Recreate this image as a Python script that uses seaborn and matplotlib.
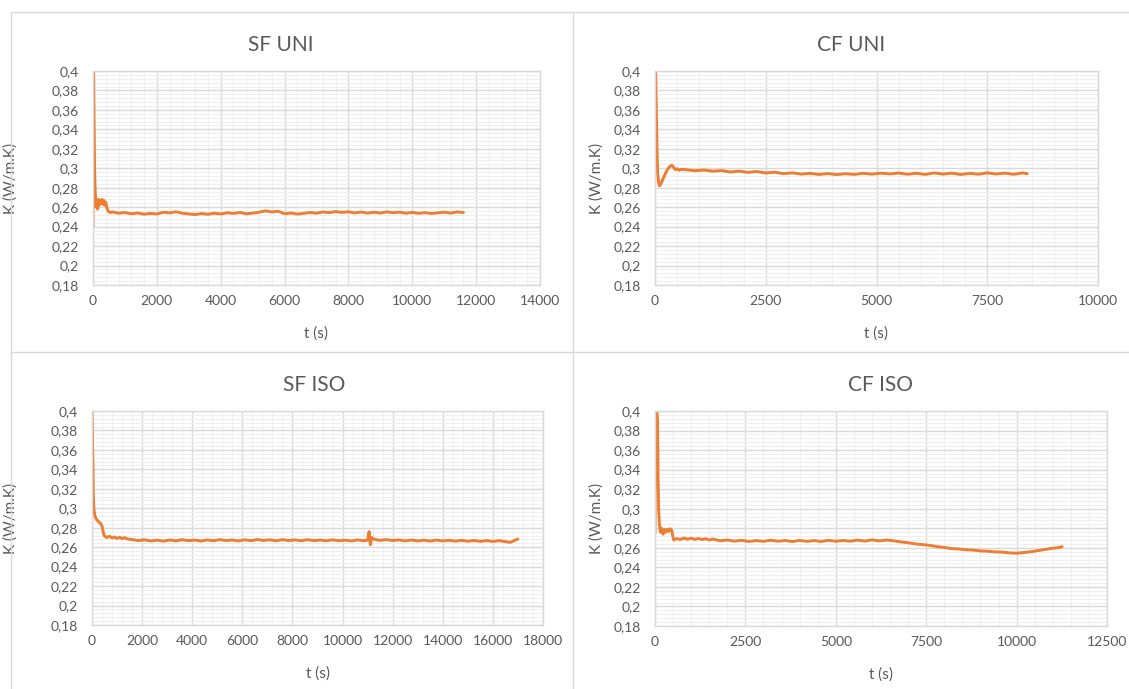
import matplotlib
matplotlib.use("Agg")
import matplotlib.pyplot as plt
from matplotlib.lines import Line2D
from matplotlib.ticker import AutoMinorLocator, FuncFormatter
import seaborn as sns


###
### DATA
###

# SF UNI
sf_uni_t = [0, 8, 20, 35, 50, 65, 80, 100, 120, 145, 170, 195, 220, 250, 280, 310,
            340, 370, 400, 430, 460, 500, 550,
            600, 800, 1000, 1200, 1400, 1600, 1800, 2000, 2200, 2400, 2600, 2800,
            3000, 3200, 3400, 3600, 3800, 4000, 4200, 4400, 4600, 4800, 5000, 5200,
            5400, 5600, 5800, 6000, 6200, 6400, 6600, 6800, 7000, 7200, 7400, 7600,
            7800, 8000, 8200, 8400, 8600, 8800, 9000, 9200, 9400, 9600, 9800, 10000,
            10200, 10400, 10600, 10800, 11000, 11200, 11400, 11600]
sf_uni_k = [0.240, 0.430, 0.400, 0.345, 0.300, 0.280, 0.268, 0.260, 0.266, 0.258,
            0.268, 0.262, 0.267, 0.264, 0.268, 0.263, 0.267, 0.262, 0.265, 0.260,
            0.257, 0.255, 0.2545,
            0.2552, 0.2538, 0.2545, 0.2532, 0.2540, 0.2528, 0.2536, 0.2530, 0.2548,
            0.2541, 0.2553, 0.2537, 0.2531, 0.2524, 0.2535, 0.2527, 0.2538, 0.2530,
            0.2543, 0.2536, 0.2546, 0.2532, 0.2539, 0.2548, 0.2562, 0.2551, 0.2558,
            0.2533, 0.2540, 0.2529, 0.2537, 0.2545, 0.2538, 0.2551, 0.2544, 0.2555,
            0.2546, 0.2553, 0.2541, 0.2550, 0.2539, 0.2548, 0.2540, 0.2552, 0.2543,
            0.2549, 0.2538, 0.2546, 0.2537, 0.2544, 0.2535, 0.2542, 0.2549, 0.2539,
            0.2552, 0.2545]

# CF UNI
cf_uni_t = [0, 5, 15, 30, 45, 60, 80, 100, 120, 150, 180, 220, 260, 300, 340, 380,
            420, 460, 500, 550, 600,
            700, 900, 1100, 1300, 1500, 1700, 1900, 2100, 2300, 2500, 2700, 2900,
            3100, 3300, 3500, 3700, 3900, 4100, 4300, 4500, 4700, 4900, 5100, 5300,
            5500, 5700, 5900, 6100, 6300, 6500, 6700, 6900, 7100, 7300, 7500, 7700,
            7900, 8100, 8300, 8400]
cf_uni_k = [0.370, 0.420, 0.400, 0.360, 0.320, 0.295, 0.286, 0.282, 0.283, 0.286,
            0.289, 0.293, 0.297, 0.300, 0.302, 0.303, 0.301, 0.2985, 0.2995, 0.2980,
            0.2990,
            0.2985, 0.2975, 0.2982, 0.2970, 0.2976, 0.2962, 0.2970, 0.2958, 0.2966,
            0.2952, 0.2960, 0.2945, 0.2953, 0.2940, 0.2948, 0.2936, 0.2946, 0.2935,
            0.2944, 0.2937, 0.2948, 0.2940, 0.2950, 0.2942, 0.2951, 0.2938, 0.2949,
            0.2937, 0.2952, 0.2940, 0.2950, 0.2936, 0.2948, 0.2939, 0.2953, 0.2941,
            0.2950, 0.2938, 0.2952, 0.2944]

# SF ISO
sf_iso_t = [0, 8, 15, 25, 40, 50, 70, 90, 120, 150, 200, 250, 300, 350, 400, 430,
            460, 500, 550, 600, 700, 800, 900, 1000, 1100, 1200, 1300, 1400,
            1600, 1850, 2100, 2350, 2600, 2850, 3100, 3350, 3600, 3850, 4100, 4350,
            4600, 4850, 5100, 5350, 5600, 5850, 6100, 6350, 6600, 6850, 7100, 7350,
            7600, 7850, 8100, 8350, 8600, 8850, 9100, 9350, 9600, 9850, 10100,
            10350, 10600, 10850, 11000, 11060, 11110, 11160, 11250, 11500, 11750,
            12000, 12250, 12500, 12750, 13000, 13250, 13500, 13750, 14000, 14250,
            14500, 14750, 15000, 15250, 15500, 15750, 16000, 16250, 16500, 16700,
            16850, 17000]
sf_iso_k = [0.410, 0.390, 0.378, 0.360, 0.342, 0.315, 0.302, 0.296, 0.292, 0.290,
            0.288, 0.2865, 0.2855, 0.284, 0.282, 0.278, 0.274, 0.2715, 0.2705,
            0.2700, 0.2712, 0.2695, 0.2705, 0.2690, 0.2702, 0.2688, 0.2698, 0.2685,
            0.2678, 0.2668, 0.2676, 0.2664, 0.2672, 0.2662, 0.2674, 0.2665, 0.2677,
            0.2667, 0.2673, 0.2663, 0.2675, 0.2666, 0.2678, 0.2668, 0.2674, 0.2664,
            0.2676, 0.2667, 0.2679, 0.2669, 0.2676, 0.2665, 0.2678, 0.2668, 0.2675,
            0.2666, 0.2677, 0.2667, 0.2674, 0.2665, 0.2676, 0.2666, 0.2673, 0.2664,
            0.2675, 0.2666, 0.2672, 0.2760, 0.2625, 0.2700, 0.2682, 0.2670, 0.2678,
            0.2668, 0.2675, 0.2665, 0.2674, 0.2664, 0.2672, 0.2663, 0.2673, 0.2664,
            0.2671, 0.2662, 0.2670, 0.2661, 0.2669, 0.2660, 0.2668, 0.2659, 0.2667,
            0.2657, 0.2650, 0.2668, 0.2684]

# CF ISO
cf_iso_t = [0, 10, 30, 50, 70, 85, 100, 120, 150, 180, 220, 260, 300, 340, 380,
            420, 460, 490, 520, 600, 700, 800, 900, 1000, 1100, 1200, 1300, 1400,
            1500, 1600,
            1800, 2000, 2200, 2400, 2600, 2800, 3000, 3200, 3400, 3600, 3800, 4000,
            4200, 4400, 4600, 4800, 5000, 5200, 5400, 5600, 5800, 6000, 6200, 6400,
            6600, 6800, 7000, 7200, 7400, 7600, 7800, 8000, 8200, 8400, 8600, 8800,
            9000, 9200, 9400, 9600, 9800, 10000, 10200, 10400, 10600, 10800, 11000,
            11150, 11260]
cf_iso_k = [0.275, 0.420, 0.400, 0.402, 0.390, 0.330, 0.300, 0.285, 0.276, 0.280,
            0.274, 0.279, 0.276, 0.279, 0.277, 0.2795, 0.278, 0.272, 0.268, 0.2695,
            0.2685, 0.2700, 0.2688, 0.2698, 0.2686, 0.2696, 0.2684, 0.2694, 0.2680,
            0.2690,
            0.2672, 0.2680, 0.2668, 0.2677, 0.2665, 0.2674, 0.2666, 0.2678, 0.2667,
            0.2675, 0.2664, 0.2676, 0.2666, 0.2674, 0.2665, 0.2677, 0.2667, 0.2675,
            0.2668, 0.2679, 0.2669, 0.2681, 0.2671, 0.2680,
            0.2672, 0.2660, 0.2652, 0.2640, 0.2633, 0.2625, 0.2612, 0.2604, 0.2592,
            0.2588, 0.2580, 0.2577, 0.2568, 0.2566, 0.2558, 0.2556, 0.2548, 0.2545,
            0.2552, 0.2560, 0.2572, 0.2584, 0.2596, 0.2602, 0.2612]

titles = ["SF UNI", "CF UNI", "SF ISO", "CF ISO"]
y_ticks = [0.18, 0.20, 0.22, 0.24, 0.26, 0.28, 0.30, 0.32, 0.34, 0.36, 0.38, 0.40]
x_ticks_sf_uni = [0, 2000, 4000, 6000, 8000, 10000, 12000, 14000]
x_ticks_cf_uni = [0, 2500, 5000, 7500, 10000]
x_ticks_sf_iso = [0, 2000, 4000, 6000, 8000, 10000, 12000, 14000, 16000, 18000]
x_ticks_cf_iso = [0, 2500, 5000, 7500, 10000, 12500]


###
### STYLE
###

sns.set_theme(style="white")
plt.rcParams["font.family"] = ["Lato", "DejaVu Sans"]

W, H = 1129, 689
TEXT = "#595959"
ORANGE = "#ED7D31"
GRID_MAJOR = "#D9D9D9"
GRID_MINOR = "#EFEFEF"

fig = plt.figure(figsize=(W / 100, H / 100), dpi=100)
fig.patch.set_facecolor("white")

# panel frames (pixel coords)
frame_lines = [((11, 12), (W, 12)), ((11, 12), (11, H)),
               ((573, 12), (573, H)), ((11, 352), (W, 352))]
for (x0, y0), (x1, y1) in frame_lines:
    fig.add_artist(Line2D([x0 / W, x1 / W], [1 - y0 / H, 1 - y1 / H],
                          transform=fig.transFigure, color=GRID_MAJOR, lw=1))

# plot areas in pixels: left, top, right, bottom ; title centre ; label x
panels = [
    (sf_uni_t, sf_uni_k, x_ticks_sf_uni, (93, 71, 540, 285), (281, 45), 18),
    (cf_uni_t, cf_uni_k, x_ticks_cf_uni, (655, 71, 1098, 285), (851, 45), 604),
    (sf_iso_t, sf_iso_k, x_ticks_sf_iso, (92, 411, 543, 625), (314, 385), 18),
    (cf_iso_t, cf_iso_k, x_ticks_cf_iso, (655, 411, 1107, 626), (880, 385), 604),
]

for title, (t, k, xt, (l, tp, r, b), (tx, ty), ylx) in zip(titles, panels):
    ax = fig.add_axes([l / W, 1 - b / H, (r - l) / W, (b - tp) / H])
    sns.lineplot(x=t, y=k, ax=ax, color=ORANGE, linewidth=2.1,
                 estimator=None, sort=False)

    ax.set_xlim(xt[0], xt[-1])
    ax.set_ylim(y_ticks[0], y_ticks[-1])
    ax.set_xticks(xt)
    ax.set_yticks(y_ticks)
    ax.xaxis.set_minor_locator(AutoMinorLocator(5))
    ax.yaxis.set_minor_locator(AutoMinorLocator(5))
    ax.yaxis.set_major_formatter(FuncFormatter(
        lambda v, p: f"{v:.2f}".rstrip("0").rstrip(".").replace(".", ",")))
    ax.xaxis.set_major_formatter(FuncFormatter(lambda v, p: f"{int(round(v))}"))

    ax.grid(which="minor", color=GRID_MINOR, lw=0.8)
    ax.grid(which="major", color=GRID_MAJOR, lw=1.0)
    ax.set_axisbelow(True)
    for s in ax.spines.values():
        s.set_color(GRID_MAJOR)
        s.set_linewidth(1.0)

    ax.tick_params(which="both", length=0, colors=TEXT, labelsize=10)
    ax.tick_params(axis="x", pad=7)
    ax.tick_params(axis="y", pad=10)

    ax.set_xlabel("t (s)", color=TEXT, fontsize=11)
    ax.set_ylabel("K (W/m.K)", color=TEXT, fontsize=11)
    ax.xaxis.set_label_coords(0.5, -41 / (b - tp))
    ax.yaxis.set_label_coords((ylx - l) / (r - l), 0.5)

    fig.text(tx / W, 1 - ty / H, title, ha="center", va="center",
             color=TEXT, fontsize=15)

fig.savefig("out.png", dpi=100, facecolor="white")
